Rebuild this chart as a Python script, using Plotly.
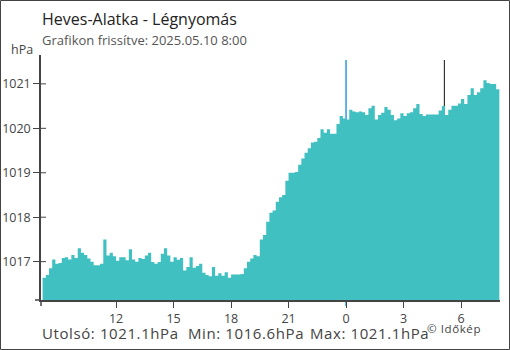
import pandas as pd
import plotly.graph_objects as go

# ---- data ----
start_time = "2025-05-09 08:10"
step = "10min"
pressure = [
    1016.64, 1016.70, 1016.85, 1017.05, 1016.95, 1016.97, 1017.08, 1017.10, 1017.05, 1017.15,
    1017.08, 1017.30, 1017.20, 1017.15, 1017.07, 1017.00, 1016.92, 1016.92, 1016.95, 1017.50,
    1017.14, 1017.20, 1017.12, 1017.02, 1017.10, 1017.10, 1017.03, 1017.28, 1017.05, 1017.00,
    1017.08, 1017.06, 1017.14, 1017.20, 1016.99, 1016.95, 1016.99, 1017.18, 1017.30, 1017.14,
    1017.00, 1017.10, 1017.04, 1017.08, 1016.80, 1016.88, 1017.10, 1016.86, 1016.90, 1016.95,
    1016.75, 1016.70, 1016.67, 1016.88, 1016.68, 1016.74, 1016.68, 1016.76, 1016.64, 1016.71,
    1016.71, 1016.71, 1016.72, 1016.85, 1017.00, 1017.07, 1017.15, 1017.12, 1017.50, 1017.60,
    1017.90, 1018.10, 1018.15, 1018.35, 1018.45, 1018.50, 1018.82, 1019.00, 1019.00, 1019.02,
    1019.18, 1019.32, 1019.45, 1019.55, 1019.68, 1019.70, 1019.78, 1019.98, 1019.90, 1019.98,
    1019.88, 1019.88, 1020.10, 1020.28, 1020.22, 1020.20, 1020.42, 1020.38, 1020.36, 1020.38,
    1020.36, 1020.30, 1020.45, 1020.51, 1020.20, 1020.30, 1020.35, 1020.48, 1020.42, 1020.30,
    1020.18, 1020.22, 1020.34, 1020.28, 1020.34, 1020.36, 1020.45, 1020.55, 1020.32, 1020.28,
    1020.31, 1020.31, 1020.31, 1020.31, 1020.40, 1020.50, 1020.30, 1020.42, 1020.51, 1020.51,
    1020.56, 1020.66, 1020.55, 1020.75, 1020.90, 1020.75, 1020.81, 1020.90, 1021.08, 1021.02,
    1021.00, 1021.00, 1020.88, 1021.10,
]
times = pd.date_range(start_time, periods=len(pressure), freq=step)

x_tick_vals = ["2025-05-09 12:00", "2025-05-09 15:00", "2025-05-09 18:00", "2025-05-09 21:00",
               "2025-05-10 00:00", "2025-05-10 03:00", "2025-05-10 06:00"]
x_tick_text = ["12", "15", "18", "21", "0", "3", "6"]
y_tick_vals = [1017, 1018, 1019, 1020, 1021]
y_tick_text = ["1017", "1018", "1019", "1020", "1021"]
x_range = ["2025-05-09 08:05", "2025-05-10 08:02"]
y_range = [1016.137, 1021.65]
midnight_marker = "2025-05-10 00:00"
update_marker = "2025-05-10 05:08"

title_text = "Heves-Alatka - Légnyomás"
subtitle_text = "Grafikon frissítve: 2025.05.10 8:00"
unit_text = "hPa"
footer_parts = ["Utolsó: 1021.1hPa", "Min: 1016.6hPa", "Max: 1021.1hPa"]
credit_text = "© Időkép"

# ---- layout geometry (pixels) ----
W, H = 510, 350
ML, MR, MT, MB = 41, 10, 55, 50
PW, PH = W - ML - MR, H - MT - MB


def px(xp):
    return (xp - ML) / PW


def py(yp):
    return (H - MB - yp) / PH


FONT = "Open Sans"
AREA = "#41c0c1"
TXT = "#444444"

fig = go.Figure()
fig.add_trace(go.Scatter(
    x=times, y=pressure, mode="lines", line=dict(shape="hv", width=0, color=AREA),
    fill="tozeroy", fillcolor=AREA, hoverinfo="skip", showlegend=False,
))

shapes = [
    dict(type="line", xref="x", yref="paper", x0=midnight_marker, x1=midnight_marker,
         y0=py(306), y1=py(60), line=dict(color="#2b9be0", width=1.5), layer="below"),
    dict(type="line", xref="x", yref="paper", x0=update_marker, x1=update_marker,
         y0=0, y1=py(60), line=dict(color="#333333", width=1.2), layer="below"),
    dict(type="line", xref="paper", yref="paper", x0=0, x1=0, y0=py(306), y1=0,
         line=dict(color=TXT, width=1.5)),
    dict(type="line", xref="paper", yref="paper", x0=px(35), x1=0, y0=0, y1=0,
         line=dict(color=TXT, width=1.5)),
    dict(type="rect", xref="paper", yref="paper", x0=px(0.5), x1=px(509.5),
         y0=py(349.5), y1=py(0.5), line=dict(color=TXT, width=1), layer="above"),
]
for v in y_tick_vals:
    shapes.append(dict(type="line", xref="paper", yref="y", x0=0, x1=px(46), y0=v, y1=v,
                       line=dict(color=TXT, width=1)))


def spaced(s, ls):
    return f'<span style="letter-spacing:{ls}px">{s}</span>'


ann = [
    dict(text=title_text, x=px(40), y=py(19), xanchor="left", yanchor="middle",
         font=dict(size=16, color="#222222", family=FONT)),
    dict(text=subtitle_text, x=px(40), y=py(40), xanchor="left", yanchor="middle",
         font=dict(size=13, color="#555555", family=FONT)),
    dict(text=unit_text, x=px(35), y=py(50), xanchor="right", yanchor="middle",
         font=dict(size=12.5, color=TXT, family=FONT)),
    dict(text=spaced(footer_parts[0], 0.6), x=px(40), y=py(333), xanchor="left", yanchor="middle",
         font=dict(size=15, color=TXT, family=FONT)),
    dict(text=spaced(footer_parts[1], 0.6), x=px(186), y=py(333), xanchor="left", yanchor="middle",
         font=dict(size=15, color=TXT, family=FONT)),
    dict(text=spaced(footer_parts[2], 0.6), x=px(308), y=py(333), xanchor="left", yanchor="middle",
         font=dict(size=15, color=TXT, family=FONT)),
    dict(text=spaced(credit_text, 0.6), x=px(425), y=py(328), xanchor="left", yanchor="middle",
         font=dict(size=11.5, color=TXT, family=FONT)),
]
for a in ann:
    a.update(xref="paper", yref="paper", showarrow=False)

fig.update_layout(
    width=W, height=H, margin=dict(l=ML, r=MR, t=MT, b=MB, autoexpand=False),
    paper_bgcolor="white", plot_bgcolor="white",
    font=dict(family=FONT, size=12, color=TXT),
    shapes=shapes, annotations=ann, showlegend=False,
    xaxis=dict(type="date", range=x_range, tickvals=x_tick_vals, ticktext=x_tick_text,
               ticks="outside", ticklen=6, tickcolor=TXT, showgrid=False, zeroline=False,
               showline=True, linecolor=TXT, linewidth=1.5, fixedrange=True, automargin=False,
               tickfont=dict(size=12.5, color=TXT)),
    yaxis=dict(range=y_range, tickvals=y_tick_vals, ticktext=y_tick_text,
               ticks="outside", ticklen=6, tickcolor=TXT, showgrid=False, zeroline=False,
               showline=True, linecolor=TXT, linewidth=1.5, fixedrange=True, automargin=False,
               tickfont=dict(size=12.5, color=TXT)),
)

fig.write_html("out.html", config={"displayModeBar": False},
               post_script="document.body.style.margin='0';document.body.style.overflow='hidden';")
